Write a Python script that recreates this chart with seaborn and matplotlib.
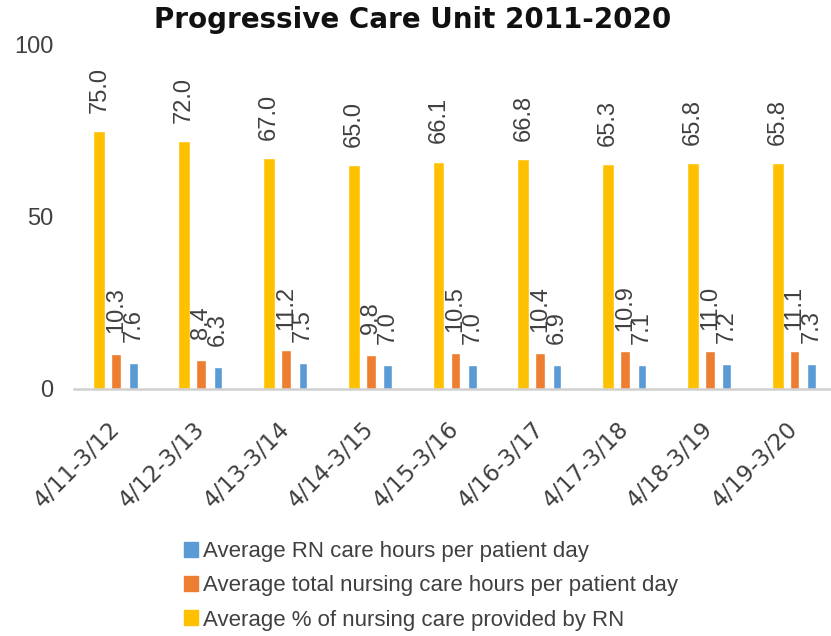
import numpy as np
import pandas as pd
import matplotlib
matplotlib.use("Agg")
import matplotlib.pyplot as plt
import seaborn as sns
from matplotlib.patches import Patch

periods = ["4/11-3/12", "4/12-3/13", "4/13-3/14", "4/14-3/15", "4/15-3/16",
           "4/16-3/17", "4/17-3/18", "4/18-3/19", "4/19-3/20"]
pct_rn = [75.0, 72.0, 67.0, 65.0, 66.1, 66.8, 65.3, 65.8, 65.8]
total_hours = [10.3, 8.4, 11.2, 9.8, 10.5, 10.4, 10.9, 11.0, 11.1]
rn_hours = [7.6, 6.3, 7.5, 7.0, 7.0, 6.9, 7.1, 7.2, 7.3]

s_rn = "Average RN care hours per patient day"
s_total = "Average total nursing care hours per patient day"
s_pct = "Average % of nursing care provided by RN"
colors = {s_pct: "#FFC000", s_total: "#ED7D31", s_rn: "#5B9BD5"}

df = pd.concat([
    pd.DataFrame({"period": periods, "value": pct_rn, "series": s_pct}),
    pd.DataFrame({"period": periods, "value": total_hours, "series": s_total}),
    pd.DataFrame({"period": periods, "value": rn_hours, "series": s_rn}),
])

sns.set_style("white")
plt.rcParams["font.family"] = ["Liberation Sans", "DejaVu Sans"]
txt = "#404040"

fig = plt.figure(figsize=(8.31, 6.36), dpi=100)
ax = fig.add_axes([0.089, 0.3884, 0.911, 0.541])

order = [s_pct, s_total, s_rn]
sns.barplot(data=df, x="period", y="value", hue="series", hue_order=order,
            palette=colors, width=0.6, ax=ax, legend=False, saturation=1)

# narrower bars, slightly different per series like the original
bar_w = [0.14, 0.115, 0.1]
for cont, bw in zip(ax.containers, bar_w):
    for p in cont:
        c = p.get_x() + p.get_width() / 2
        p.set_width(bw)
        p.set_x(c - bw / 2)

for cont, pad in zip(ax.containers, [13, 15, 15]):
    labels = [f"{v:.1f}" for v in cont.datavalues]
    ax.bar_label(cont, labels=labels, rotation=90, padding=pad,
                 fontsize=17, color=txt)

ax.set_ylim(0, 100)
ax.set_yticks([0, 50, 100])
ax.set_xlim(-0.5, 8.43)
ax.set_xlabel("")
ax.set_ylabel("")
for s in ["top", "right", "left"]:
    ax.spines[s].set_visible(False)
ax.spines["bottom"].set_color("#D0D0D0")
ax.spines["bottom"].set_linewidth(1.8)
ax.tick_params(axis="y", length=0, labelsize=17, colors=txt, pad=15)
ax.tick_params(axis="x", length=0, colors=txt, pad=26)
plt.setp(ax.get_xticklabels(), rotation=45, ha="right", va="center",
         rotation_mode="anchor", family="DejaVu Sans", fontsize=16.5)

fig.suptitle("Progressive Care Unit 2011-2020", x=0.496, y=0.99,
             fontsize=20, fontweight="bold", color="#111111",
             family="DejaVu Sans")

handles = [Patch(color=colors[s]) for s in [s_rn, s_total, s_pct]]
fig.legend(handles, [s_rn, s_total, s_pct], loc="upper left",
           bbox_to_anchor=(0.208, 0.167), frameon=False, fontsize=16,
           handlelength=0.65, handleheight=0.65, handletextpad=0.2,
           labelspacing=0.6, labelcolor=txt, borderpad=0)

fig.savefig("out.png", dpi=100)
